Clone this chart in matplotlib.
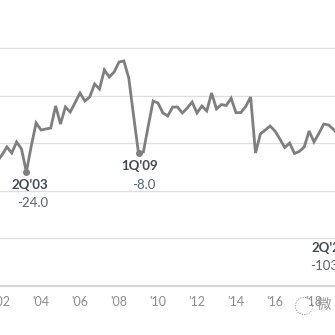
import numpy as np
import matplotlib
matplotlib.use("Agg")
from matplotlib import pyplot as plt
from matplotlib.patches import Circle

plt.rcParams['font.family'] = ['Lato', 'Noto Sans CJK SC', 'DejaVu Sans']

# квартальные значения, начиная с 4Q'01
start = 2001.75
values = [
    -15.0,
    -9.7, -2.9, -8.0, 1.3,       # 2002
    -4.6, -24.0, -2.1, 17.3,     # 2003
    11.4, 12.2, 13.1, 31.6,      # 2004
    16.4, 30.7, 26.5, 34.5,      # 2005
    42.5, 35.8, 39.2, 50.1,      # 2006
    45.9, 61.9, 56.0, 60.2,      # 2007
    68.6, 69.5, 55.2, 23.2,      # 2008
    -8.0, -7.2, 14.7, 35.8,      # 2009
    34.1, 25.7, 23.2, 30.7,      # 2010
    30.7, 25.7, 29.9, 34.9,      # 2011
    25.7, 31.6, 27.4, 42.5,      # 2012
    29.1, 32.8, 32.0, 38.1,      # 2013
    25.9, 26.1, 31.2, 39.2,      # 2014
    -8.0, 8.0, 11.4, 14.7,       # 2015
    10.5, 3.8, -3.4, 0.4,        # 2016
    -8.4, -6.7, -2.9, 10.5,      # 2017
    1.3, 8.4, 16.4, 15.6,        # 2018
    11.8, 8.0, 10.0, 6.0,        # 2019
    -5.0, -103.0,                # 2020
]
t = start + 0.25 * np.arange(len(values))

# подписанные точки: (время, значение, подпись, текст значения)
marks_t = [2003.25, 2009.0, 2020.25]
marks_v = [-24.0, -8.0, -103.0]
marks_name = ["2Q'03", "1Q'09", "2Q'20"]
marks_text = ["-24.0", "-8.0", "-103.0"]

tick_years = list(range(2002, 2021, 2))
tick_labels = ["'%02d" % (y % 100) for y in tick_years]

fig = plt.figure(figsize=(3.35, 3.35), dpi=100)
ax = fig.add_axes([0, 49 / 335, 1, 286 / 335])

ax.plot(t, values, color='#7f7f7f', lw=2.0, solid_joinstyle='miter', zorder=3)
ax.plot(marks_t, marks_v, 'o', color='#7f7f7f', ms=4, zorder=4)

ax.set_yticks([-80, -40, 0, 40, 80])
ax.yaxis.grid(True, color='#dedede', lw=0.9)
ax.set_axisbelow(True)
ax.tick_params(axis='y', left=False, labelleft=False)
ax.set_xticks(tick_years)
ax.set_xticklabels(tick_labels)
ax.tick_params(axis='x', length=0, pad=7.5, labelsize=9, labelcolor='#8c8c8c')
# пределы задаём после set_xticks, иначе ось расширяется до '20
ax.set_xlim(2002 - 2 / 19.5, 2002 + 333 / 19.5)
ax.set_ylim(-120, 120.84)
for s in ['top', 'left', 'right']:
    ax.spines[s].set_visible(False)
ax.spines['bottom'].set_color('#d6d6d6')
ax.spines['bottom'].set_linewidth(1.5)

# смещения подписей в точках
name_off = [(2.6, -9.4), (0.4, -9.4), (-33.3, 12.8)]
val_off = [(4.8, -22.3), (3.6, -23.0), (-34.5, 0.0)]
name_ha = ['center', 'center', 'left']
for i in range(len(marks_t)):
    ax.annotate(marks_name[i], (marks_t[i], marks_v[i]), xytext=name_off[i],
                textcoords='offset points', ha=name_ha[i], va='center',
                fontsize=9.5, fontweight='bold', color='#434a56', annotation_clip=False)
    ax.annotate(marks_text[i], (marks_t[i], marks_v[i]), xytext=val_off[i],
                textcoords='offset points', ha=name_ha[i], va='center',
                fontsize=9.5, color='#5b616b', annotation_clip=False)

# водяной знак
fig.text(324 / 335, 1 - 305 / 335, "微", fontsize=10.5, color='#9a9a9a',
         ha='center', va='center', family=['Noto Sans CJK SC', 'DejaVu Sans'])
fig.add_artist(Circle((304 / 335, 1 - 306 / 335), 0.026, transform=fig.transFigure,
                      fill=False, ls=(0, (1.5, 1.5)), lw=0.6, color='#9a9a9a'))

fig.savefig('out.png', dpi=100)
